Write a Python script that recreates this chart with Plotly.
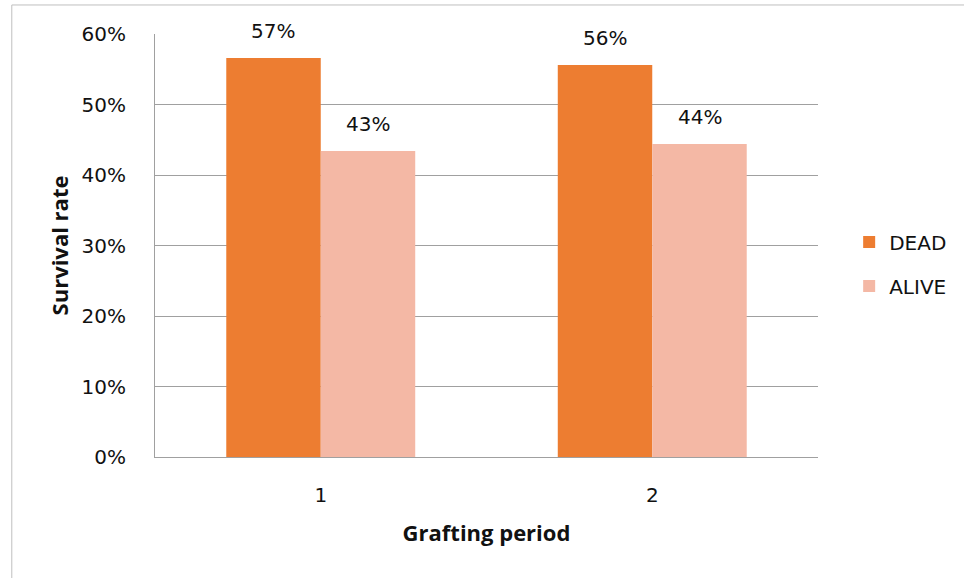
import plotly.graph_objects as go

# Survival of grafts per grafting period (share of grafts)
periods = ["1", "2"]
dead = [0.566, 0.556]
alive = [0.434, 0.444]

series_names = ["DEAD", "ALIVE"]
series_colors = ["#ED7D31", "#F4B8A5"]
y_ticks = [0, 0.1, 0.2, 0.3, 0.4, 0.5, 0.6]

TICK_FONT = dict(family="DejaVu Sans", size=20, color="#111111")
TITLE_FONT = dict(family="Open Sans", size=22, color="#111111", weight="bold")
GRID = "#A0A0A0"

fig = go.Figure()
for i, (name, vals) in enumerate(zip(series_names, [dead, alive])):
    fig.add_trace(go.Bar(
        x=periods, y=vals, name=name,
        marker=dict(color=series_colors[i], line=dict(width=0)),
        legendgroup=name,
    ))

# value labels above each bar (half a bar-width left/right of the category centre)
bar_half = 47.5
for i, vals in enumerate([dead, alive]):
    shift = -bar_half if i == 0 else bar_half
    for j, v in enumerate(vals):
        fig.add_annotation(
            x=j, y=v, xref="x", yref="y",
            text=f"{round(v * 100)}%", showarrow=False,
            xanchor="center", yanchor="bottom",
            xshift=shift, yshift=13,
            font=dict(family="DejaVu Sans", size=20, color="#111111"),
        )

# light frame around the chart area
fig.add_shape(type="rect", xref="paper", yref="paper",
              x0=-0.216, x1=1.4, y0=-0.4, y1=1.0686,
              line=dict(color="#BFBFBF", width=1), layer="below")

fig.update_layout(
    width=964, height=578,
    margin=dict(l=155, r=142, t=34, b=121),
    paper_bgcolor="white", plot_bgcolor="white",
    barmode="group", bargap=0.43, bargroupgap=0,
    showlegend=True,
    legend=dict(
        x=1.047, xanchor="left", y=0.456, yanchor="middle",
        font=dict(family="DejaVu Sans", size=20, color="#111111"),
        traceorder="grouped", tracegroupgap=15,
        bgcolor="rgba(0,0,0,0)",
    ),
    xaxis=dict(
        type="category", range=[-0.5, len(periods) - 0.5],
        showgrid=False, showline=True, linecolor=GRID,
        linewidth=1, ticks="", tickfont=TICK_FONT, ticklabelstandoff=20,
        title=dict(text="Grafting period", font=TITLE_FONT, standoff=19),
        zeroline=False,
    ),
    yaxis=dict(
        range=[0, 0.6], tickvals=y_ticks, tickformat=".0%",
        showgrid=True, gridcolor=GRID, gridwidth=1,
        showline=True, linecolor=GRID, linewidth=1,
        ticks="", tickfont=TICK_FONT, ticklabelstandoff=24,
        title=dict(text="Survival rate", font=TITLE_FONT, standoff=6),
        zeroline=False,
    ),
)

fig.write_html("out.html")
